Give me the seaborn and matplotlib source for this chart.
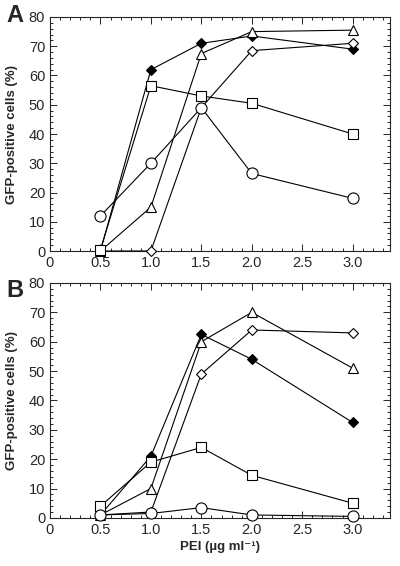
import matplotlib
matplotlib.use('Agg')
import matplotlib.pyplot as plt
import seaborn as sns
import pandas as pd
from matplotlib.ticker import MultipleLocator, FixedFormatter, FixedLocator

sns.set_style('ticks')
plt.rcParams['font.family'] = ['Liberation Sans', 'DejaVu Sans']

# Concentraciones de PEI
pei = [0.5, 1.0, 1.5, 2.0, 3.0]

# Panel A
a_rombo_lleno = [0, 62, 71, 73.5, 69]
a_triangulo = [0, 15, 67.5, 75, 75.5]
a_rombo = [0, 0, 49, 68.5, 71]
a_cuadrado = [0.5, 56.5, 53, 50.5, 40]
a_circulo = [12, 30, 49, 26.5, 18]

# Panel B
b_rombo_lleno = [1, 21, 62.5, 54, 32.5]
b_triangulo = [1, 10, 60, 70, 51]
b_rombo = [1, 2, 49, 64, 63]
b_cuadrado = [4, 19, 24, 14.5, 5]
b_circulo = [1, 1.5, 3.5, 1, 0.5]

x_ticks = [0, 0.5, 1.0, 1.5, 2.0, 2.5, 3.0]
x_tick_labels = ['0', '0.5', '1.0', '1.5', '2.0', '2.5', '3.0']
y_ticks = [0, 10, 20, 30, 40, 50, 60, 70, 80]

estilos = [
    ('D', 'black', 5.5),
    ('^', 'white', 7),
    ('D', 'white', 5.5),
    ('s', 'white', 7),
    ('o', 'white', 8),
]

fig = plt.figure(figsize=(4, 5.66), dpi=100)
ax_a = fig.add_axes([0.125, 0.5565, 0.85, 0.4135])
ax_b = fig.add_axes([0.125, 0.085, 0.85, 0.415])

paneles = [
    (ax_a, [a_rombo_lleno, a_triangulo, a_rombo, a_cuadrado, a_circulo]),
    (ax_b, [b_rombo_lleno, b_triangulo, b_rombo, b_cuadrado, b_circulo]),
]

for ax, series in paneles:
    for valores, (m, relleno, tam) in zip(series, estilos):
        df = pd.DataFrame({'PEI': pei, 'GFP': valores})
        sns.lineplot(data=df, x='PEI', y='GFP', ax=ax, color='black',
                     linewidth=0.8, marker=m, markersize=tam,
                     markerfacecolor=relleno, markeredgecolor='black',
                     markeredgewidth=0.8, clip_on=False, zorder=3)
    ax.set_xlim(0, 3.37)
    ax.set_ylim(0, 80)
    ax.xaxis.set_major_locator(FixedLocator(x_ticks))
    ax.xaxis.set_major_formatter(FixedFormatter(x_tick_labels))
    ax.xaxis.set_minor_locator(MultipleLocator(0.1))
    ax.yaxis.set_major_locator(FixedLocator(y_ticks))
    ax.yaxis.set_minor_locator(MultipleLocator(2))
    ax.tick_params(which='both', direction='in', top=True, right=True,
                   labelsize=10.5, width=0.7)
    ax.tick_params(which='major', length=5)
    ax.tick_params(which='minor', length=2.5)
    for s in ax.spines.values():
        s.set_linewidth(0.8)
    ax.set_ylabel('GFP-positive cells (%)', fontsize=9.5, fontweight='bold',
                  labelpad=8)
    ax.set_xlabel('')

# Letras de los paneles
fig.text(0.015, 0.973, 'A', fontsize=17, fontweight='bold', ha='left', va='center')
fig.text(0.015, 0.486, 'B', fontsize=17, fontweight='bold', ha='left', va='center')

# Etiqueta del eje x
fig.text(0.55, 0.033, 'PEI (µg ml⁻¹)', fontsize=9.5, fontweight='bold',
         ha='center', va='center')

plt.savefig('out.png', dpi=100)
plt.close()
